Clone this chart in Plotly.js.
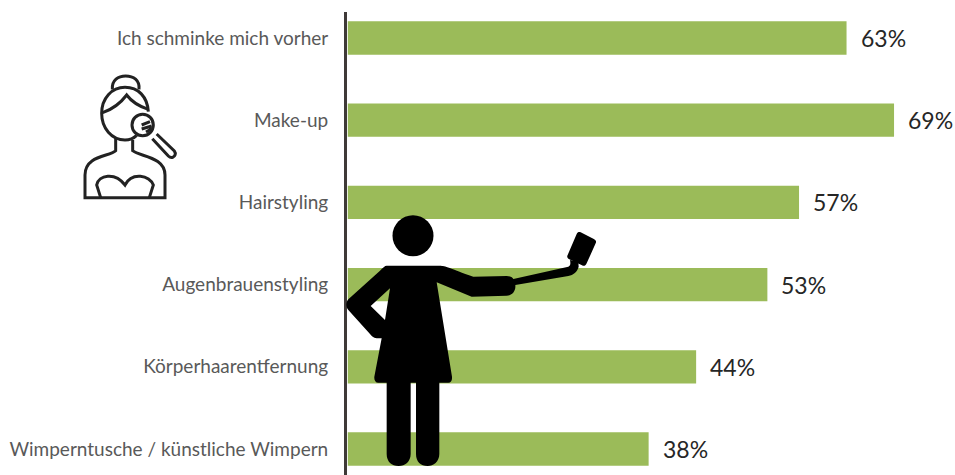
<!DOCTYPE html>
<html>
<head>
<meta charset="utf-8">
<script src="https://cdn.plot.ly/plotly-3.0.1.min.js"></script>
<style>html,body{margin:0;padding:0;background:#fff}#chart{width:955px;height:475px}</style>
</head>
<body>
<div id="chart"></div>
<script>
const categories = ["Ich schminke mich vorher","Make-up","Hairstyling","Augenbrauenstyling","Körperhaarentfernung","Wimperntusche / künstliche Wimpern"];
const values = [63,69,57,53,44,38];
const valueLabels = ["63%","69%","57%","53%","44%","38%"];

const W=955,H=475,L=347,T=12;
// icon outlines: traced in zoomed-crop coordinates (3x) and mapped onto the page
function icon(path,ox,oy){
  let i=0;
  return path.replace(/-?\d+(\.\d+)?/g,n=>{
    const odd=(i++)%2===0, v=+n/3;
    return odd ? ((ox+v-L)/(W-L)).toFixed(5) : ((H-(oy+v))/(H-T)).toFixed(5);
  });
}
const personPath = "M170 197 L330 197 C345 197 360 205 430 230 L530 228 C540 228 548 232 550 237 L715 200 C722 197 722 190 720 180 L745 185 L746 200 C742 215 730 225 715 228 L556 255 C558 275 545 287 530 287 L425 290 L320 247 L366 530 C367 542 362 548 355 548 L328 548 L328 762 C328 785 310 798 293 798 C272 798 258 785 258 762 L258 548 L242 548 L242 762 C242 785 225 798 206 798 C185 798 170 785 170 762 L170 548 L145 548 C136 548 132 540 133 530 L155 415 L140 415 C130 413 125 408 120 402 L55 330 C47 320 47 308 55 298 L150 212 C158 203 165 197 170 197 Z M180 265 L122 318 L165 360 Z";
const phonePath = "M752 97 L790 116 C798 120 800 124 797 130 L770 190 C766 198 762 199 756 196 L718 178 C712 175 710 170 713 165 L740 102 C743 96 747 95 752 97 Z";
const iconLines = [
 "M157 88 C155 60 175 48 197 48 C220 48 240 60 237 88",
 "M265 155 C262 110 235 82 195 82 C155 82 125 115 125 160 C125 205 155 240 195 240 C208 240 220 236 230 226",
 "M128 158 C165 145 185 125 200 105 C215 125 240 140 265 148",
 "M248 163 C266 163 280 177 280 195 C280 213 266 227 248 227 C230 227 216 213 216 195 C216 177 230 163 248 163 Z",
 "M245 195 L270 185 M245 207 L275 198 M258 216 L276 206",
 "M290 222 L343 273 C349 281 345 289 338 292 C333 294 329 292 325 288 L277 236",
 "M167 235 L167 272 C150 290 75 285 75 345 L75 413 L315 413 L315 345 C315 290 240 290 218 272 L218 240",
 "M122 413 L110 375 C115 345 165 335 195 375 C215 335 270 345 280 375 L268 413"
];
const shapes = [
  {type:"circle",xref:"paper",yref:"paper",layer:"above",fillcolor:"#000",line:{width:0},
   x0:(392.5-L)/(W-L),x1:(433.5-L)/(W-L),y0:(H-256.2)/(H-T),y1:(H-215.2)/(H-T)},
  {type:"path",xref:"paper",yref:"paper",layer:"above",fillcolor:"#000",line:{width:0},fillrule:"evenodd",path:icon(personPath,330,200)},
  {type:"path",xref:"paper",yref:"paper",layer:"above",fillcolor:"#000",line:{width:0},path:icon(phonePath,330,200)}
].concat(iconLines.map(p=>({type:"path",xref:"paper",yref:"paper",layer:"above",fillcolor:"rgba(0,0,0,0)",line:{color:"#222",width:3},path:icon(p,60,60)})));

const annotations = values.map((v,i)=>({
  x:v,y:categories[i],xref:"x",yref:"y",text:valueLabels[i],showarrow:false,
  xanchor:"left",yanchor:"middle",xshift:12,yshift:0,
  font:{family:"Lato",size:23,color:"#262626"}
}));

const trace = {
  type:"bar",orientation:"h",y:categories,x:values,
  marker:{color:"#9bbb59",line:{width:0}},
  hoverinfo:"skip",width:0.405
};
const layout = {
  width:W,height:H,margin:{l:L,r:0,t:T,b:0,pad:0},
  paper_bgcolor:"#fff",plot_bgcolor:"#fff",showlegend:false,
  xaxis:{range:[-0.1,76.7],visible:false,fixedrange:true},
  yaxis:{type:"category",range:[5.316,-0.316],showgrid:false,zeroline:false,
    showline:true,linecolor:"#3f3a38",linewidth:3,ticks:"",ticklabelstandoff:12,
    tickfont:{family:"Lato",size:19,color:"#595959"},fixedrange:true},
  shapes:shapes,annotations:annotations
};
Plotly.newPlot("chart",[trace],layout,{displayModeBar:false,staticPlot:true});
</script>
</body>
</html>
